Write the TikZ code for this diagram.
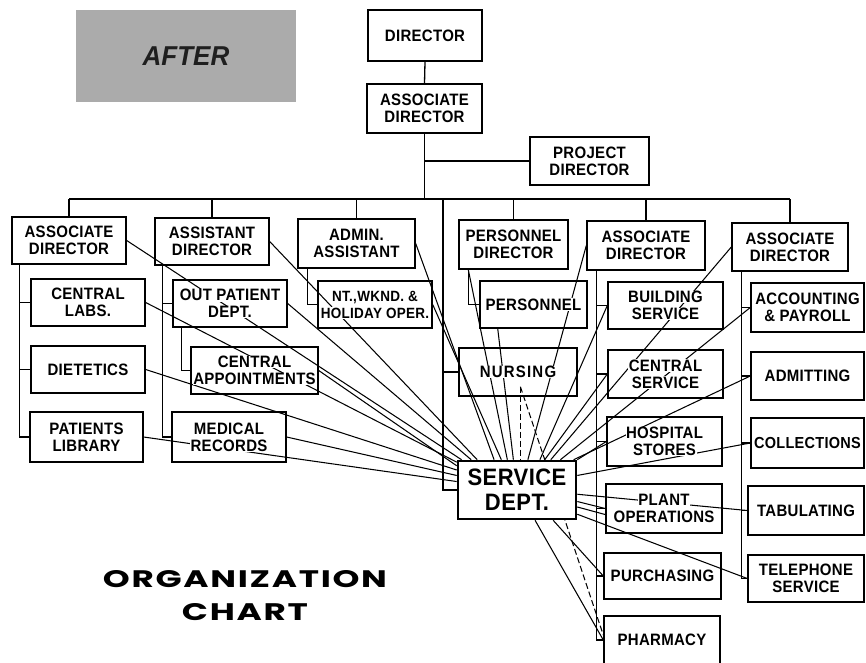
\documentclass[tikz,border=0pt]{standalone}
\usepackage{fontspec}
\usepackage{graphicx}
\setmainfont{Liberation Sans}
\newfontfamily\boxfont{Liberation Sans}[LetterSpace=2]
\newfontfamily\orgfont{Poppins}[LetterSpace=5]
\usetikzlibrary{calc}
\pgfdeclarelayer{background}
\pgfsetlayers{background,main}
\setlength{\fboxsep}{0.6pt}
\newcommand{\cb}[1]{\colorbox{white}{\scalebox{1}[1.1]{#1}}}
\tikzset{
  orgbox/.style={draw, line width=1.4pt, inner sep=0pt, align=center,
    font=\boxfont\bfseries\fontsize{15}{17}\selectfont},
  sdbox/.style={draw, line width=2.6pt, fill=white, inner sep=0pt, align=center,
    font=\boxfont\bfseries\fontsize{22}{25}\selectfont},
  frame/.style={line width=1.3pt},
  fan/.style={line width=1.05pt},
  fandash/.style={line width=1.05pt, dash pattern=on 6pt off 3pt},
}
\begin{document}
\begin{tikzpicture}[x=1pt,y=-1pt]
\useasboundingbox (0,0) rectangle (866,662);
\begin{pgfonlayer}{background}
\fill[white] (0,0) rectangle (866,662);
\end{pgfonlayer}

% AFTER label
\node[fill=black!33, minimum width=220pt, minimum height=92pt, inner sep=0pt,
  text=black!88, font=\bfseries\itshape\fontsize{26}{28}\selectfont] (after) at (186,56) {\scalebox{1}[1.05]{AFTER}};

% title
\node[inner sep=0pt] (org) at (245,579.5) {\resizebox{284pt}{17pt}{\orgfont\bfseries ORGANIZATION}};
\node[inner sep=0pt] (chart) at (245,612) {\resizebox{126pt}{17pt}{\orgfont\bfseries CHART}};

% boxes
\node[orgbox, minimum width=114pt, minimum height=51pt] (dir) at (425,35.5) {\cb{DIRECTOR}};
\node[orgbox, minimum width=115pt, minimum height=49pt] (adir) at (424.5,108.5) {\cb{ASSOCIATE}\\\cb{DIRECTOR}};
\node[orgbox, minimum width=119pt, minimum height=48pt] (proj) at (589.5,161) {\cb{PROJECT}\\\cb{DIRECTOR}};

\node[orgbox, minimum width=114pt, minimum height=47pt] (ad1) at (69,240.5) {\cb{ASSOCIATE}\\\cb{DIRECTOR}};
\node[orgbox, minimum width=114pt, minimum height=47pt] (asd) at (212,241.5) {\cb{ASSISTANT}\\\cb{DIRECTOR}};
\node[orgbox, minimum width=117pt, minimum height=49pt] (adm) at (356.5,243.5) {\cb{ADMIN.}\\\cb{ASSISTANT}};
\node[orgbox, minimum width=109pt, minimum height=49pt] (pd) at (513.5,244.5) {\cb{PERSONNEL}\\\cb{DIRECTOR}};
\node[orgbox, minimum width=118pt, minimum height=49pt] (ad2) at (646,245.5) {\cb{ASSOCIATE}\\\cb{DIRECTOR}};
\node[orgbox, minimum width=116pt, minimum height=48pt] (ad3) at (790,247) {\cb{ASSOCIATE}\\\cb{DIRECTOR}};

\node[orgbox, minimum width=114pt, minimum height=47pt] (clabs) at (88,302.5) {\cb{CENTRAL}\\\cb{LABS.}};
\node[orgbox, minimum width=114pt, minimum height=47pt] (diet) at (88,369.5) {\cb{DIETETICS}};
\node[orgbox, minimum width=113pt, minimum height=50pt] (plib) at (86.5,437) {\cb{PATIENTS}\\\cb{LIBRARY}};

\node[orgbox, minimum width=114pt, minimum height=47pt] (opd) at (230,303.5) {\cb{OUT PATIENT}\\\cb{DEPT.}};
\node[orgbox, minimum width=127pt, minimum height=47pt] (capp) at (254.5,370.5) {\cb{CENTRAL}\\\cb{APPOINTMENTS}};
\node[orgbox, minimum width=114pt, minimum height=50pt] (mrec) at (229,437) {\cb{MEDICAL}\\\cb{RECORDS}};

\node[orgbox, minimum width=114pt, minimum height=47pt,
  font=\boxfont\bfseries\fontsize{13.5}{17}\selectfont] (ntw) at (375,304.5) {\cb{NT.,WKND. \&}\\\cb{HOLIDAY OPER.}};
\node[orgbox, minimum width=107pt, minimum height=47pt] (pers) at (533.5,304.5) {\cb{PERSONNEL}};
\node[orgbox, minimum width=118pt, minimum height=48pt] (nurs) at (518,372) {\cb{\addfontfeature{LetterSpace=8}NURSING}};

\node[orgbox, minimum width=115pt, minimum height=47pt] (bld) at (665.5,305.5) {\cb{BUILDING}\\\cb{SERVICE}};
\node[orgbox, minimum width=115pt, minimum height=48pt] (csv) at (665.5,374) {\cb{CENTRAL}\\\cb{SERVICE}};
\node[orgbox, minimum width=115pt, minimum height=49pt] (hst) at (664.5,441.5) {\cb{HOSPITAL}\\\cb{STORES}};
\node[orgbox, minimum width=116pt, minimum height=49pt] (plant) at (664,508.5) {\cb{PLANT}\\\cb{OPERATIONS}};
\node[orgbox, minimum width=117pt, minimum height=46pt] (purch) at (662.5,576) {\cb{PURCHASING}};
\node[orgbox, minimum width=116pt, minimum height=48pt] (pharm) at (662,640) {\cb{PHARMACY}};

\node[orgbox, minimum width=113pt, minimum height=49pt] (acct) at (807.5,307.5) {\cb{ACCOUNTING}\\\cb{\& PAYROLL}};
\node[orgbox, minimum width=113pt, minimum height=48pt] (admt) at (807.5,376) {\cb{ADMITTING}};
\node[orgbox, minimum width=113pt, minimum height=50pt,
  font=\boxfont\bfseries\fontsize{14.5}{17}\selectfont] (coll) at (807.5,443) {\cb{COLLECTIONS}};
\node[orgbox, minimum width=116pt, minimum height=49pt] (tab) at (806,510.5) {\cb{TABULATING}};
\node[orgbox, minimum width=116pt, minimum height=47pt] (tel) at (806,578.5) {\cb{TELEPHONE}\\\cb{SERVICE}};

\node[sdbox, minimum width=118pt, minimum height=58pt] (sd) at (517,490) {\scalebox{1}[1.08]{SERVICE}\\\scalebox{1}[1.08]{DEPT.}};

\begin{pgfonlayer}{background}
% organisation tree
\coordinate (busy) at (0,199);
\draw[frame] (dir.south) -- (adir.north);
\draw[frame] (adir.south) -- (adir.south |- busy);
\draw[frame] (adir.south |- proj.west) -- (proj.west);
\draw[frame] (ad1.north |- busy) -- (ad3.north |- busy);
\foreach \n in {ad1,asd,adm,pd,ad2,ad3} \draw[frame] (\n.north) -- (\n.north |- busy);
\coordinate (nv) at (443,199);
\draw[frame] (nv) |- (sd.west);
\draw[frame] (nurs.west) -- (nurs.west -| nv);

\coordinate (c1) at ([xshift=8pt]ad1.south west);
\draw[frame] (c1) |- (plib.west);
\foreach \n in {clabs,diet} \draw[frame] (\n.west) -- (\n.west -| c1);
\coordinate (c2) at ([xshift=8pt]asd.south west);
\draw[frame] (c2) |- (mrec.west);
\draw[frame] (opd.west) -- (opd.west -| c2);
\coordinate (c3) at ([xshift=9pt]opd.south west);
\draw[frame] (c3) |- (capp.west);
\coordinate (c4) at ([xshift=10pt]adm.south west);
\draw[frame] (c4) |- (ntw.west);
\coordinate (c5) at ([xshift=10pt]pd.south west);
\draw[frame] (c5) |- (pers.west);
\coordinate (c6) at ([xshift=10pt]ad2.south west);
\draw[frame] (c6) |- (pharm.west);
\foreach \n in {bld,csv,hst,plant,purch} \draw[frame] (\n.west) -- (\n.west -| c6);
\coordinate (c7) at ([xshift=10pt]ad3.south west);
\draw[frame] (c7) |- (tel.west);
\foreach \n in {acct,admt,coll,tab} \draw[frame] (\n.west) -- (\n.west -| c7);

% service lines
\draw[fan] (ad1.east) -- ($(sd.north west)!0.04!(sd.north east)$);
\draw[fan] (asd.east) -- ($(sd.north west)!0.17!(sd.north east)$);
\draw[fan] (opd.east) -- ($(sd.north west)!0.12!(sd.north east)$);
\draw[fan] (clabs.east) -- ($(sd.north west)!0.04!(sd.south west)$);
\draw[fan] (capp.east) -- ($(sd.north west)!0.10!(sd.south west)$);
\draw[fan] (diet.east) -- ($(sd.north west)!0.17!(sd.south west)$);
\draw[fan] (mrec.east) -- ($(sd.north west)!0.26!(sd.south west)$);
\draw[fan] (plib.east) -- ($(sd.north west)!0.36!(sd.south west)$);
\draw[fan] (adm.east) -- ($(sd.north west)!0.31!(sd.north east)$);
\draw[fan] (ntw.east) -- ($(sd.north west)!0.37!(sd.north east)$);
\draw[fan] (c5) -- ($(sd.north west)!0.42!(sd.north east)$);
\draw[fan] ($(pers.south west)!0.17!(pers.south east)$) -- ($(sd.north west)!0.47!(sd.north east)$);
\draw[fan] (ad2.west) -- ($(sd.north west)!0.59!(sd.north east)$);
\draw[fan] (bld.west) -- ($(sd.north west)!0.69!(sd.north east)$);
\draw[fan] (csv.west) -- ($(sd.north west)!0.73!(sd.north east)$);
\draw[fan] (ad3.west) -- ($(sd.north west)!0.78!(sd.north east)$);
\draw[fan] (acct.west) -- ($(sd.north west)!0.86!(sd.north east)$);
\draw[fan] (admt.west) -- ($(sd.north west)!0.97!(sd.north east)$);
\draw[fan] (hst.west) -- (sd.north east);
\draw[fan] (coll.west) -- ($(sd.north east)!0.26!(sd.south east)$);
\draw[fan] (tab.west) -- ($(sd.north east)!0.57!(sd.south east)$);
\draw[fan] (plant.west) -- ($(sd.north east)!0.69!(sd.south east)$);
\draw[fan] ($(plant.north west)!0.62!(plant.south west)$) -- ($(sd.north east)!0.78!(sd.south east)$);
\draw[fan] (tel.west) -- ($(sd.north east)!0.90!(sd.south east)$);
\draw[fan] (purch.west) -- ($(sd.south west)!0.80!(sd.south east)$);
\draw[fan] (pharm.west) -- ($(sd.south west)!0.65!(sd.south east)$);
\coordinate (nd) at ($(nurs.south west)!0.52!(nurs.south east)+(0,-10)$);
\draw[fandash] (nd) -- (nd |- sd.north);
\draw[fandash] (nd) -- ($(pharm.north west)!0.4!(pharm.south west)$);
\end{pgfonlayer}
\end{tikzpicture}
\end{document}
